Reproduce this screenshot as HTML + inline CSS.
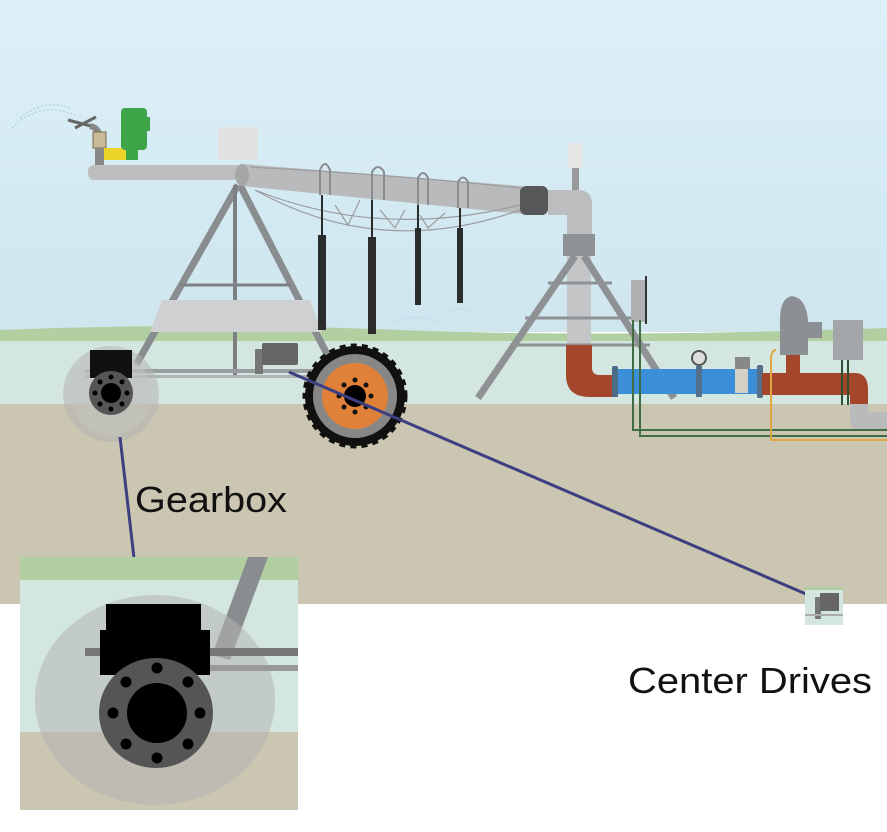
<!DOCTYPE html>
<html><head><meta charset="utf-8"><style>
html,body{margin:0;padding:0;background:#fff}
svg{display:block}
text{font-family:"Liberation Sans","DejaVu Sans",sans-serif}
</style></head><body>
<svg width="887" height="832" viewBox="0 0 887 832" xmlns="http://www.w3.org/2000/svg">
<defs>
<linearGradient id="sky" x1="0" y1="0" x2="0" y2="1">
<stop offset="0" stop-color="#dcf0f8"/><stop offset="1" stop-color="#cfe6ef"/>
</linearGradient>
</defs>
<rect x="0" y="0" width="887" height="832" fill="#fff"/>
<rect x="0" y="0" width="887" height="332" fill="url(#sky)"/>
<path d="M0 330 Q200 322 400 330 T887 328 L887 342 L0 342Z" fill="#b2cfa2"/>
<rect x="0" y="341" width="887" height="64" fill="#d3e6df"/>
<rect x="0" y="404" width="887" height="200" fill="#cbc6b1"/>

<path d="M12 128 Q40 100 75 115" stroke="#aac8d6" stroke-dasharray="2 2" fill="none"/>
<path d="M20 118 Q45 98 70 108" stroke="#aac8d6" stroke-dasharray="2 2" fill="none"/>
<path d="M68 120 L98 128 M75 128 L96 117" stroke="#666" stroke-width="3"/>
<path d="M90 126 Q100 128 100 140" stroke="#888" stroke-width="6" fill="none"/>
<rect x="93" y="132" width="13" height="16" fill="#c9bb99" stroke="#7a6a4a"/>
<rect x="95" y="148" width="9" height="20" fill="#888"/>
<rect x="104" y="148" width="34" height="12" fill="#ecd42a"/>
<rect x="121" y="108" width="26" height="42" rx="4" fill="#3da548"/>
<rect x="145" y="117" width="5" height="14" fill="#3da548"/>
<rect x="126" y="150" width="12" height="10" fill="#3da548"/>

<rect x="218" y="127" width="40" height="33" rx="3" fill="#e2e2e2"/>

<g stroke="#8a8d90" stroke-width="7" fill="none">
<line x1="238" y1="185" x2="136" y2="365"/>
<line x1="240" y1="185" x2="330" y2="360"/>
</g>
<line x1="235" y1="185" x2="235" y2="375" stroke="#7d8083" stroke-width="4"/>
<line x1="180" y1="285" x2="290" y2="285" stroke="#7d8083" stroke-width="3"/>
<polygon points="162,300 310,300 322,332 150,332" fill="#cfd0d1"/>
<rect x="85" y="369" width="245" height="4" fill="#9a9d9f"/>
<rect x="85" y="375" width="245" height="3" fill="#b0b3b5"/>

<rect x="88" y="165" width="158" height="15" rx="6" fill="#bdbebf"/>
<polygon points="242,164 522,186 522,214 242,186" fill="#b9babb"/>
<ellipse cx="242" cy="175" rx="7" ry="11" fill="#a5a6a7"/>
<rect x="520" y="186" width="28" height="29" rx="6" fill="#555759"/>
<path d="M548 190 L578 190 Q592 190 592 205 L592 240 L567 240 L567 215 L548 215Z" fill="#bcbdbe"/>
<rect x="568" y="143" width="15" height="25" rx="2" fill="#e6e6e6"/>
<rect x="572" y="168" width="7" height="22" fill="#999"/>

<g stroke="#9a9c9e" stroke-width="1.2" fill="none">
<path d="M255 190 Q380 260 520 210"/>
<path d="M255 190 Q380 240 520 205"/>
<path d="M250 167 Q400 175 520 188"/>
<path d="M335 205 L348 225 L360 200 M380 210 L395 228 L405 210 M420 215 L428 228 L445 213"/>
</g>
<g stroke="#8a8c8e" stroke-width="2" fill="none">
<path d="M320 195 L320 170 Q325 158 330 170 L330 195"/>
<path d="M372 200 L372 172 Q378 162 384 172 L384 200"/>
<path d="M418 205 L418 178 Q423 168 428 178 L428 205"/>
<path d="M458 208 L458 182 Q463 173 468 182 L468 208"/>
</g>
<g fill="#2a2c2e">
<rect x="318" y="235" width="8" height="95"/><rect x="321" y="195" width="2" height="40"/>
<rect x="368" y="237" width="8" height="90"/><rect x="371" y="200" width="2" height="37"/><rect x="368" y="327" width="8" height="7"/>
<rect x="415" y="228" width="6" height="72"/><rect x="417" y="205" width="2" height="23"/><rect x="415" y="300" width="6" height="5"/>
<rect x="457" y="228" width="6" height="70"/><rect x="459" y="208" width="2" height="20"/><rect x="457" y="298" width="6" height="5"/>
</g>
<path d="M395 322 Q415 312 440 322 M445 313 Q460 305 475 313" stroke="#b5d3df" stroke-dasharray="2 2" fill="none"/>

<rect x="567" y="235" width="24" height="120" fill="#c4c5c6"/>
<rect x="563" y="234" width="32" height="22" fill="#8e9295"/>
<g stroke="#8e9295" stroke-width="7">
<line x1="575" y1="256" x2="478" y2="398"/>
<line x1="584" y1="256" x2="674" y2="398"/>
</g>
<g stroke="#8e9295" stroke-width="3">
<line x1="548" y1="283" x2="612" y2="283"/>
<line x1="525" y1="318" x2="635" y2="318"/>
<line x1="510" y1="345" x2="650" y2="345"/>
</g>
<path d="M566 345 L592 345 L592 368 Q592 375 600 375 L618 375 L618 397 L590 397 Q566 397 566 375Z" fill="#a3462b"/>
<rect x="614" y="369" width="146" height="25" fill="#3b8fd9"/>
<rect x="612" y="366" width="6" height="31" rx="2" fill="#4a6d8a"/>
<rect x="696" y="366" width="6" height="31" fill="#54708a"/>
<circle cx="699" cy="358" r="7" fill="#ddd" stroke="#555" stroke-width="2"/>
<rect x="735" y="357" width="15" height="12" fill="#888"/>
<rect x="735" y="369" width="13" height="24" fill="#d4d0c4"/>
<rect x="757" y="365" width="6" height="33" rx="2" fill="#54708a"/>
<path d="M762 373 L855 373 Q868 373 868 390 L868 405 L850 405 L850 395 L762 395Z" fill="#a3462b"/>
<rect x="786" y="352" width="14" height="22" fill="#a3462b"/>
<path d="M850 404 L868 404 L868 412 L887 412 L887 430 L858 430 Q850 430 850 418Z" fill="#b8babc"/>
<path d="M780 320 Q780 298 792 296 Q806 298 808 320 L808 355 L780 355Z" fill="#8c9094"/>
<rect x="808" y="322" width="14" height="16" fill="#8c9094"/>
<rect x="631" y="280" width="14" height="42" fill="#aeb0b2"/>
<rect x="645" y="276" width="2" height="48" fill="#333"/>
<rect x="833" y="320" width="30" height="40" fill="#a3a6a8"/>
<g fill="none" stroke-width="2">
<path d="M633 320 L633 430 L887 430" stroke="#3f6b45"/>
<path d="M640 320 L640 436 L887 436" stroke="#3f6b45"/>
<path d="M776 350 Q771 350 771 360 L771 440 L887 440" stroke="#e0a640"/>
<path d="M842 360 L842 405 M848 360 L848 405" stroke="#2d4f32"/>
</g>

<circle cx="111" cy="394" r="48" fill="#b5b5b2" opacity="0.55"/>
<circle cx="111" cy="394" r="41" fill="#c4c6c2" opacity="0.5"/>
<rect x="90" y="350" width="42" height="28" fill="#111"/>
<circle cx="111" cy="393" r="22" fill="#555"/>
<circle cx="111" cy="393" r="10" fill="#000"/>
<g fill="#000"><circle cx="111" cy="377" r="2.5"/><circle cx="111" cy="409" r="2.5"/><circle cx="95" cy="393" r="2.5"/><circle cx="127" cy="393" r="2.5"/><circle cx="100" cy="382" r="2.5"/><circle cx="122" cy="382" r="2.5"/><circle cx="100" cy="404" r="2.5"/><circle cx="122" cy="404" r="2.5"/></g>

<rect x="255" y="349" width="8" height="25" fill="#777"/>
<rect x="262" y="343" width="36" height="22" rx="2" fill="#666"/>

<circle cx="355" cy="396" r="50" fill="#111" stroke="#111" stroke-width="5" stroke-dasharray="6 5"/>
<circle cx="355" cy="396" r="42" fill="#878787"/>
<circle cx="355" cy="396" r="33" fill="#e0813a"/>
<circle cx="355" cy="396" r="11" fill="#000"/>
<g fill="#111"><circle cx="355" cy="380" r="2.5"/><circle cx="355" cy="412" r="2.5"/><circle cx="339" cy="396" r="2.5"/><circle cx="371" cy="396" r="2.5"/><circle cx="344" cy="385" r="2.5"/><circle cx="366" cy="385" r="2.5"/><circle cx="344" cy="407" r="2.5"/><circle cx="366" cy="407" r="2.5"/></g>

<line x1="120" y1="437" x2="134" y2="558" stroke="#3c3f80" stroke-width="3"/>
<line x1="289" y1="372" x2="806" y2="594" stroke="#3c3f80" stroke-width="3"/>

<rect x="805" y="587" width="38" height="38" fill="#d3e6df"/>
<rect x="805" y="587" width="38" height="3" fill="#b2cfa2"/>
<rect x="815" y="597" width="6" height="22" fill="#777"/>
<rect x="820" y="593" width="19" height="18" fill="#666"/>
<rect x="805" y="614" width="38" height="2" fill="#aaa"/>

<g>
<rect x="20" y="557" width="278" height="253" fill="#d3e6df"/>
<rect x="20" y="557" width="278" height="23" fill="#b2cfa2"/>
<rect x="20" y="732" width="278" height="78" fill="#cbc6b1"/>
<polygon points="248,557 268,557 230,660 212,655" fill="#8a8d90"/>
<ellipse cx="155" cy="700" rx="120" ry="105" fill="#b5b5b2" opacity="0.55"/>
<rect x="85" y="648" width="213" height="8" fill="#777"/>
<rect x="200" y="665" width="98" height="6" fill="#999"/>
<rect x="106" y="604" width="95" height="30" fill="#000"/>
<rect x="100" y="630" width="110" height="45" fill="#000"/>
<ellipse cx="156" cy="713" rx="57" ry="55" fill="#555"/>
<ellipse cx="157" cy="713" rx="30" ry="30" fill="#000"/>
<g fill="#000"><circle cx="157" cy="668" r="5.5"/><circle cx="157" cy="758" r="5.5"/><circle cx="113" cy="713" r="5.5"/><circle cx="200" cy="713" r="5.5"/><circle cx="126" cy="682" r="5.5"/><circle cx="188" cy="682" r="5.5"/><circle cx="126" cy="744" r="5.5"/><circle cx="188" cy="744" r="5.5"/></g>
</g>

<text x="135" y="512" font-size="36" fill="#111" textLength="152" lengthAdjust="spacingAndGlyphs">Gearbox</text>
<text x="628" y="693" font-size="36" fill="#111" textLength="244" lengthAdjust="spacingAndGlyphs">Center Drives</text>
</svg>
</body></html>
